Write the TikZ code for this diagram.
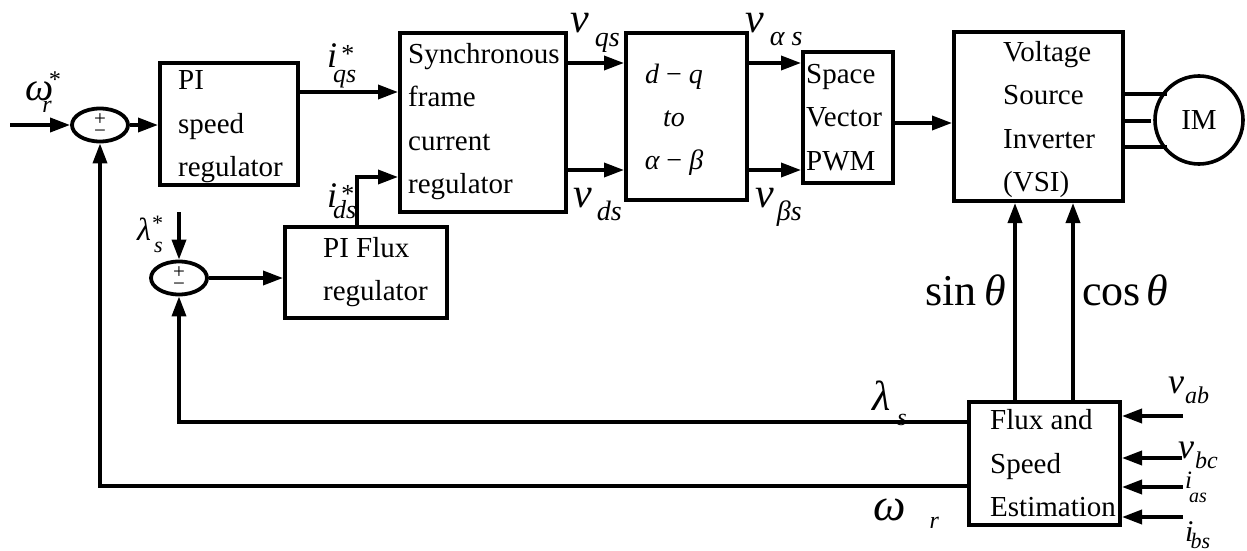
\documentclass[tikz,border=0pt]{standalone}
\usepackage{fontspec}
\setmainfont{Liberation Serif}
\usetikzlibrary{arrows.meta,shapes.geometric,calc}
\newcommand\fs[1]{\fontsize{#1}{#1}\selectfont}

\begin{document}
\begin{tikzpicture}[x=1pt,y=-1pt,
  wire/.style={line width=3.6pt},
  arr/.style={wire,-{Triangle[length=20pt,width=14pt]}},
  blk/.style={draw,line width=4pt,rectangle,inner sep=0pt},
  txt/.style={inner sep=0pt,align=left,font={\fontsize{29}{43.5}\selectfont}},
  sumj/.style={draw,ellipse,line width=3.8pt,inner sep=0pt,minimum width=56pt,minimum height=33pt},
  sgn/.style={inner sep=0pt,font=\fs{21}},
  lbl/.style={inner sep=0pt,anchor=base west,font=\itshape},
  trig/.style={inner sep=0pt,anchor=base west,font=\fs{44}}
]
\fill[white] (0,0) rectangle (1247,551);
\useasboundingbox (0,0) rectangle (1247,551);

% ---- blocks ----
\node[blk,minimum width=138pt,minimum height=122pt] (pispd) at (229,124) {};
\node[blk,minimum width=166pt,minimum height=179pt] (sync) at (483,122.5) {};
\node[blk,minimum width=121pt,minimum height=167pt] (dq) at (686.5,116.5) {};
\node[blk,minimum width=90pt,minimum height=131pt] (svpwm) at (848,117.5) {};
\node[blk,minimum width=169pt,minimum height=169pt] (vsi) at (1038.5,116.5) {};
\node[blk,minimum width=162pt,minimum height=91pt] (piflux) at (366,272.5) {};
\node[blk,minimum width=151pt,minimum height=123pt] (est) at (1044.5,463.5) {};
\node[draw,circle,line width=3.6pt,minimum size=88pt,inner sep=0pt,
      font={\fontsize{29}{29}\selectfont}] (im) at (1199,120) {IM};

% ---- block texts ----
\node[txt,anchor=west] (pispd-t) at ($(pispd.west)+(20,3)$) {PI\\speed\\regulator};
\node[txt,anchor=west] (sync-t) at ($(sync.west)+(10,-1)$) {Synchronous\\frame\\current\\regulator};
\node[txt,align=center,font={\fontsize{28}{43}\selectfont\itshape}] (dq-t) at (674,120)
  {d {\upshape −} q\\to\\α {\upshape −} β};
\node[txt,anchor=west] (svpwm-t) at ($(svpwm.west)+(5,0)$) {Space\\Vector\\PWM};
\node[txt,anchor=west] (vsi-t) at (1003,119.5) {Voltage\\Source\\Inverter\\(VSI)};
\node[txt,anchor=west] (piflux-t) at (323,272) {PI Flux\\regulator};
\node[txt,anchor=west] (est-t) at (990,463.5) {Flux and\\Speed\\Estimation};

% ---- summing junctions ----
\node[sumj] (s1) at (100,125) {};
\node[sgn] (s1p) at ($(s1)+(0,-5)$) {+};
\node[sgn] (s1m) at ($(s1)+(0,9)$) {−};
\node[sumj] (s2) at (179,278) {};
\node[sgn] (s2p) at ($(s2)+(0,-5)$) {+};
\node[sgn] (s2m) at ($(s2)+(0,9)$) {−};

% ---- connectors ----
\coordinate (win) at (10,125);
\draw[arr] (win) -- (s1.west);
\draw[arr] (s1.east) -- (pispd.west |- s1.east);
\draw[arr] (pispd.east |- 0,92) -- (sync.west |- 0,92);
\draw[arr] (piflux.north -| 357,0) |- (sync.west |- 0,177);
\draw[arr] (sync.east |- 0,63) -- (dq.west |- 0,63);
\draw[arr] (sync.east |- 0,170) -- (dq.west |- 0,170);
\draw[arr] (dq.east |- 0,63) -- (svpwm.west |- 0,63);
\draw[arr] (dq.east |- 0,170) -- (svpwm.west |- 0,170);
\draw[arr] (svpwm.east |- 0,123) -- (vsi.west |- 0,123);
\draw[wire] (vsi.east |- 0,94) -- ($(im.west |- 0,94)+(14,0)$);
\draw[wire] (vsi.east |- 0,121) -- ($(im.west |- 0,121)+(-2,0)$);
\draw[wire] (vsi.east |- 0,147) -- ($(im.west |- 0,147)+(14,0)$);
\draw[arr] (est.north -| 1015,0) -- (vsi.south -| 1015,0);
\draw[arr] (est.north -| 1073,0) -- (vsi.south -| 1073,0);
\draw[arr] (est.west |- 0,422) -| (s2.south);
\draw[arr] (est.west |- 0,486) -| (s1.south);
\coordinate (lin) at (179,212);
\draw[arr] (lin) -- (s2.north);
\draw[arr] (s2.east) -- (piflux.west |- s2.east);
\coordinate (vab) at (1183,416);
\coordinate (vbc) at (1182,458);
\coordinate (ias) at (1183,487);
\coordinate (ibs) at (1183,517);
\draw[arr] (vab) -- (est.east |- vab);
\draw[arr] (vbc) -- (est.east |- vbc);
\draw[arr] (ias) -- (est.east |- ias);
\draw[arr] (ibs) -- (est.east |- ibs);

% ---- signal labels ----
\node[lbl] (l-wref) at (25,100) {\fs{40}ω\kern-11pt\raisebox{-12pt}{\fs{24}r}\kern-4pt\raisebox{13pt}{\fs{24}*}};
\node[lbl] (l-iqs) at (327,67) {\fs{36}i\kern-4pt\rlap{\kern7pt\raisebox{5pt}{\fs{26}*}}\raisebox{-15pt}{\fs{26}qs}};
\node[lbl] (l-ids) at (327,207) {\fs{36}i\kern-4pt\rlap{\kern7pt\raisebox{5pt}{\fs{26}*}}\raisebox{-11pt}{\fs{26}ds}};
\node[lbl] (l-vqs) at (570,33) {\fs{42}v\kern6pt\raisebox{-14pt}{\fs{28}qs}};
\node[lbl] (l-vds) at (573,207) {\fs{42}v\kern5pt\raisebox{-13pt}{\fs{28}ds}};
\node[lbl] (l-vas) at (745,33) {\fs{42}v\kern6pt\raisebox{-13pt}{\fs{28}α s}};
\node[lbl] (l-vbs) at (755,207) {\fs{42}v\kern3pt\raisebox{-13pt}{\fs{28}βs}};
\node[lbl] (l-lref) at (137,240) {\fs{32}λ\rlap{\raisebox{10pt}{\fs{22}*}}\kern3pt\raisebox{-12pt}{\fs{22}s}};
\node[lbl] (l-ls) at (872,410) {\fs{42}λ\kern7pt\raisebox{-15pt}{\fs{24}s}};
\node[lbl] (l-wr) at (873,520) {\fs{46}ω\kern24pt\raisebox{-8pt}{\fs{24}r}};
\node[lbl] (l-vab) at (1168,393) {\fs{36}v\kern1pt\raisebox{-10pt}{\fs{24}ab}};
\node[lbl] (l-vbc) at (1178,458) {\fs{36}v\kern1pt\raisebox{-10pt}{\fs{24}bc}};
\node[lbl] (l-ias) at (1185,488) {\fs{25}i\kern-3pt\raisebox{-14pt}{\fs{20}as}};
\node[lbl] (l-ibs) at (1185,541) {\fs{30}i\kern-3pt\raisebox{-7pt}{\fs{22}bs}};
\node[trig] (l-sin) at (925,305) {sin\kern8pt{\itshape θ}};
\node[trig] (l-cos) at (1082,305) {cos\kern6pt{\itshape θ}};
\end{tikzpicture}
\end{document}
